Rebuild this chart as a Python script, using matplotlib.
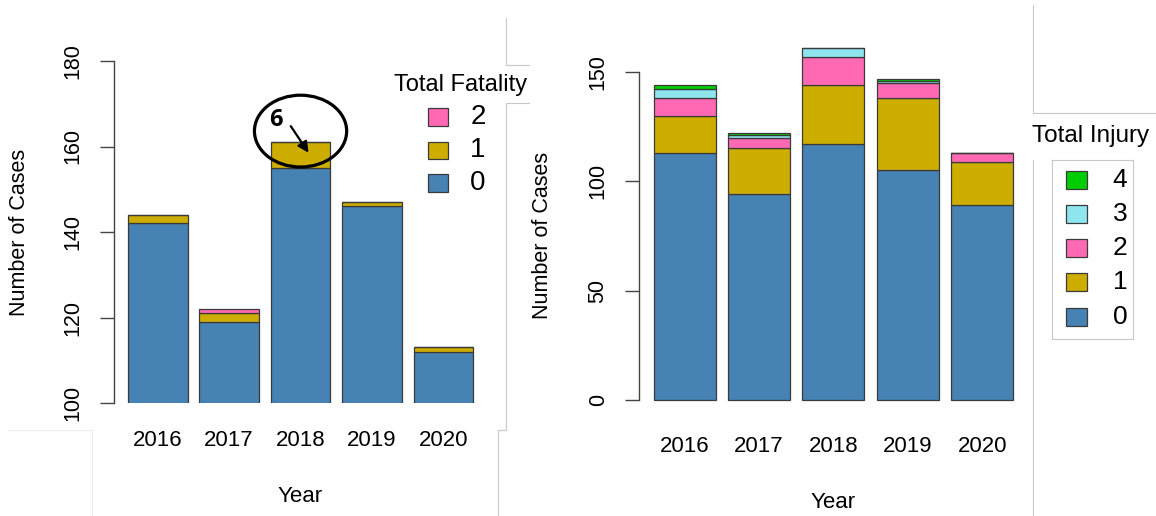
import matplotlib
matplotlib.use("Agg")
import matplotlib.pyplot as plt
from matplotlib.patches import Ellipse
from matplotlib.lines import Line2D
from matplotlib.transforms import blended_transform_factory

plt.rcParams['font.family'] = ['Liberation Sans', 'DejaVu Sans']

# ---- data ----
years = ['2016', '2017', '2018', '2019', '2020']

fatality_levels = ['0', '1', '2']
fatality_0 = [142, 119, 155, 146, 112]
fatality_1 = [2, 2, 6, 1, 1]
fatality_2 = [0, 1, 0, 0, 0]

injury_levels = ['0', '1', '2', '3', '4']
injury_0 = [113, 94, 117, 105, 89]
injury_1 = [17, 21, 27, 33, 20]
injury_2 = [8, 5, 13, 7, 4]
injury_3 = [4, 1, 4, 1, 0]
injury_4 = [2, 1, 0, 1, 0]

left_yticks = [100, 120, 140, 160, 180]
right_yticks = [0, 50, 100, 150]

colors = ['#4682B4', '#CDAD00', '#FF69B4', '#8EE5EE', '#00CD00']
edge = '#3a3a3a'

W, H = 1156, 516
fig = plt.figure(figsize=(W / 100, H / 100), dpi=100)


def fx(x):
    return x / W


def fy(y):
    return 1 - y / H


def axes_px(x0, x1, y_top, y_bot):
    return fig.add_axes([fx(x0), fy(y_bot), (x1 - x0) / W, (y_bot - y_top) / H])


# bar centres in barplot units (width 1, space 0.2)
centers = [0.7 + 1.2 * i for i in range(len(years))]
xlim = (-0.032, 6.232)


def stacked(ax, series):
    bottom = [0] * len(years)
    for vals, col in zip(series, colors):
        ax.bar(centers, vals, width=1.0, bottom=bottom, color=col,
               edgecolor=edge, linewidth=0.9, zorder=2)
        bottom = [b + v for b, v in zip(bottom, vals)]


def style_axis(ax, ticks):
    for s in ['top', 'right', 'bottom']:
        ax.spines[s].set_visible(False)
    ax.spines['left'].set_bounds(ticks[0], ticks[-1])
    ax.spines['left'].set_color('#444444')
    ax.spines['left'].set_linewidth(1.0)
    ax.set_yticks(ticks)
    ax.set_yticklabels([str(t) for t in ticks], rotation=90, va='center',
                       fontsize=15.5)
    ax.tick_params(axis='y', length=10, width=1.0, color='#444444', pad=12)
    ax.set_xticks([])
    ax.set_xlim(*xlim)
    ax.patch.set_visible(False)


# ---- left: fatality ----
axl = axes_px(114.2, 486.9, 61, 403)
stacked(axl, [fatality_0, fatality_1, fatality_2])
axl.set_ylim(100, 180)
style_axis(axl, left_yticks)
tl = blended_transform_factory(axl.transData, fig.transFigure)
for c, yr in zip(centers, years):
    axl.text(c, fy(441), yr, transform=tl, ha='center', va='center', fontsize=16)
fig.text(fx(300.5), fy(496), 'Year', ha='center', va='center', fontsize=16)
fig.text(fx(20), fy(232), 'Number of Cases', rotation=90, ha='center',
         va='center', fontsize=15.5)

# highlight on 2018 fatalities
i18 = years.index('2018')
top18 = fatality_0[i18] + fatality_1[i18]
axl.add_patch(Ellipse((centers[i18], top18 + 2.6), width=1.55, height=16.8,
                      fill=False, edgecolor='black', linewidth=2.3,
                      clip_on=False, zorder=5))
axl.annotate('', xy=(centers[i18] + 0.16, top18 - 3.0),
             xytext=(centers[i18] - 0.19, top18 + 4.3),
             arrowprops=dict(arrowstyle='-|>', color='black', lw=1.6,
                             mutation_scale=16), annotation_clip=False, zorder=6)
axl.text(centers[i18] - 0.41, top18 + 5.3, str(fatality_1[i18]),
         ha='center', va='center', fontsize=17, fontweight='bold',
         family=['Open Sans', 'DejaVu Sans'], zorder=6)

# left legend
fig.text(fx(461), fy(85), 'Total Fatality', ha='center', va='center', fontsize=17)
leg_y = [117, 150, 183]
for lab, col, y in zip(fatality_levels[::-1], colors[:3][::-1], leg_y):
    fig.patches.append(plt.Rectangle((fx(428), fy(y + 8.5)), 20 / W, 17 / H,
                                     transform=fig.transFigure, facecolor=col,
                                     edgecolor=edge, linewidth=0.9))
    fig.text(fx(478), fy(y), lab, ha='center', va='center', fontsize=20)

# ---- right: injury ----
axr = axes_px(639.2, 1027.6, 33.8, 414.1)
stacked(axr, [injury_0, injury_1, injury_2, injury_3, injury_4])
axr.set_ylim(-6.44, 167.44)
style_axis(axr, right_yticks)
tr = blended_transform_factory(axr.transData, fig.transFigure)
for c, yr in zip(centers, years):
    axr.text(c, fy(447), yr, transform=tr, ha='center', va='center', fontsize=16)
fig.text(fx(833), fy(502), 'Year', ha='center', va='center', fontsize=16)
fig.text(fx(542), fy(235), 'Number of Cases', rotation=90, ha='center',
         va='center', fontsize=15.5)

# right legend
fig.text(fx(1091), fy(136), 'Total Injury', ha='center', va='center', fontsize=17.5)
leg_y = [180, 214, 248, 282, 317]
for lab, col, y in zip(injury_levels[::-1], colors[::-1], leg_y):
    fig.patches.append(plt.Rectangle((fx(1066), fy(y + 9)), 21 / W, 18 / H,
                                     transform=fig.transFigure, facecolor=col,
                                     edgecolor=edge, linewidth=0.9))
    fig.text(fx(1120), fy(y), lab, ha='center', va='center', fontsize=19)


# thin panel borders
def seg(pts, color='#c8c8c8'):
    xs = [fx(p[0]) for p in pts]
    ys = [fy(p[1]) for p in pts]
    fig.lines.append(Line2D(xs, ys, transform=fig.transFigure, color=color,
                            linewidth=0.8))


seg([(506, 18), (506, 65), (529, 65)])
seg([(529, 103), (506, 103), (506, 430), (498, 430), (498, 516)])
seg([(8, 430), (92, 430), (92, 516)], color='#ececec')
seg([(1033, 5), (1033, 113), (1156, 113)])
seg([(1033, 160), (1033, 516)])
seg([(1052, 160), (1133, 160), (1133, 339), (1052, 339), (1052, 160)])

fig.savefig('out.png', dpi=100)
